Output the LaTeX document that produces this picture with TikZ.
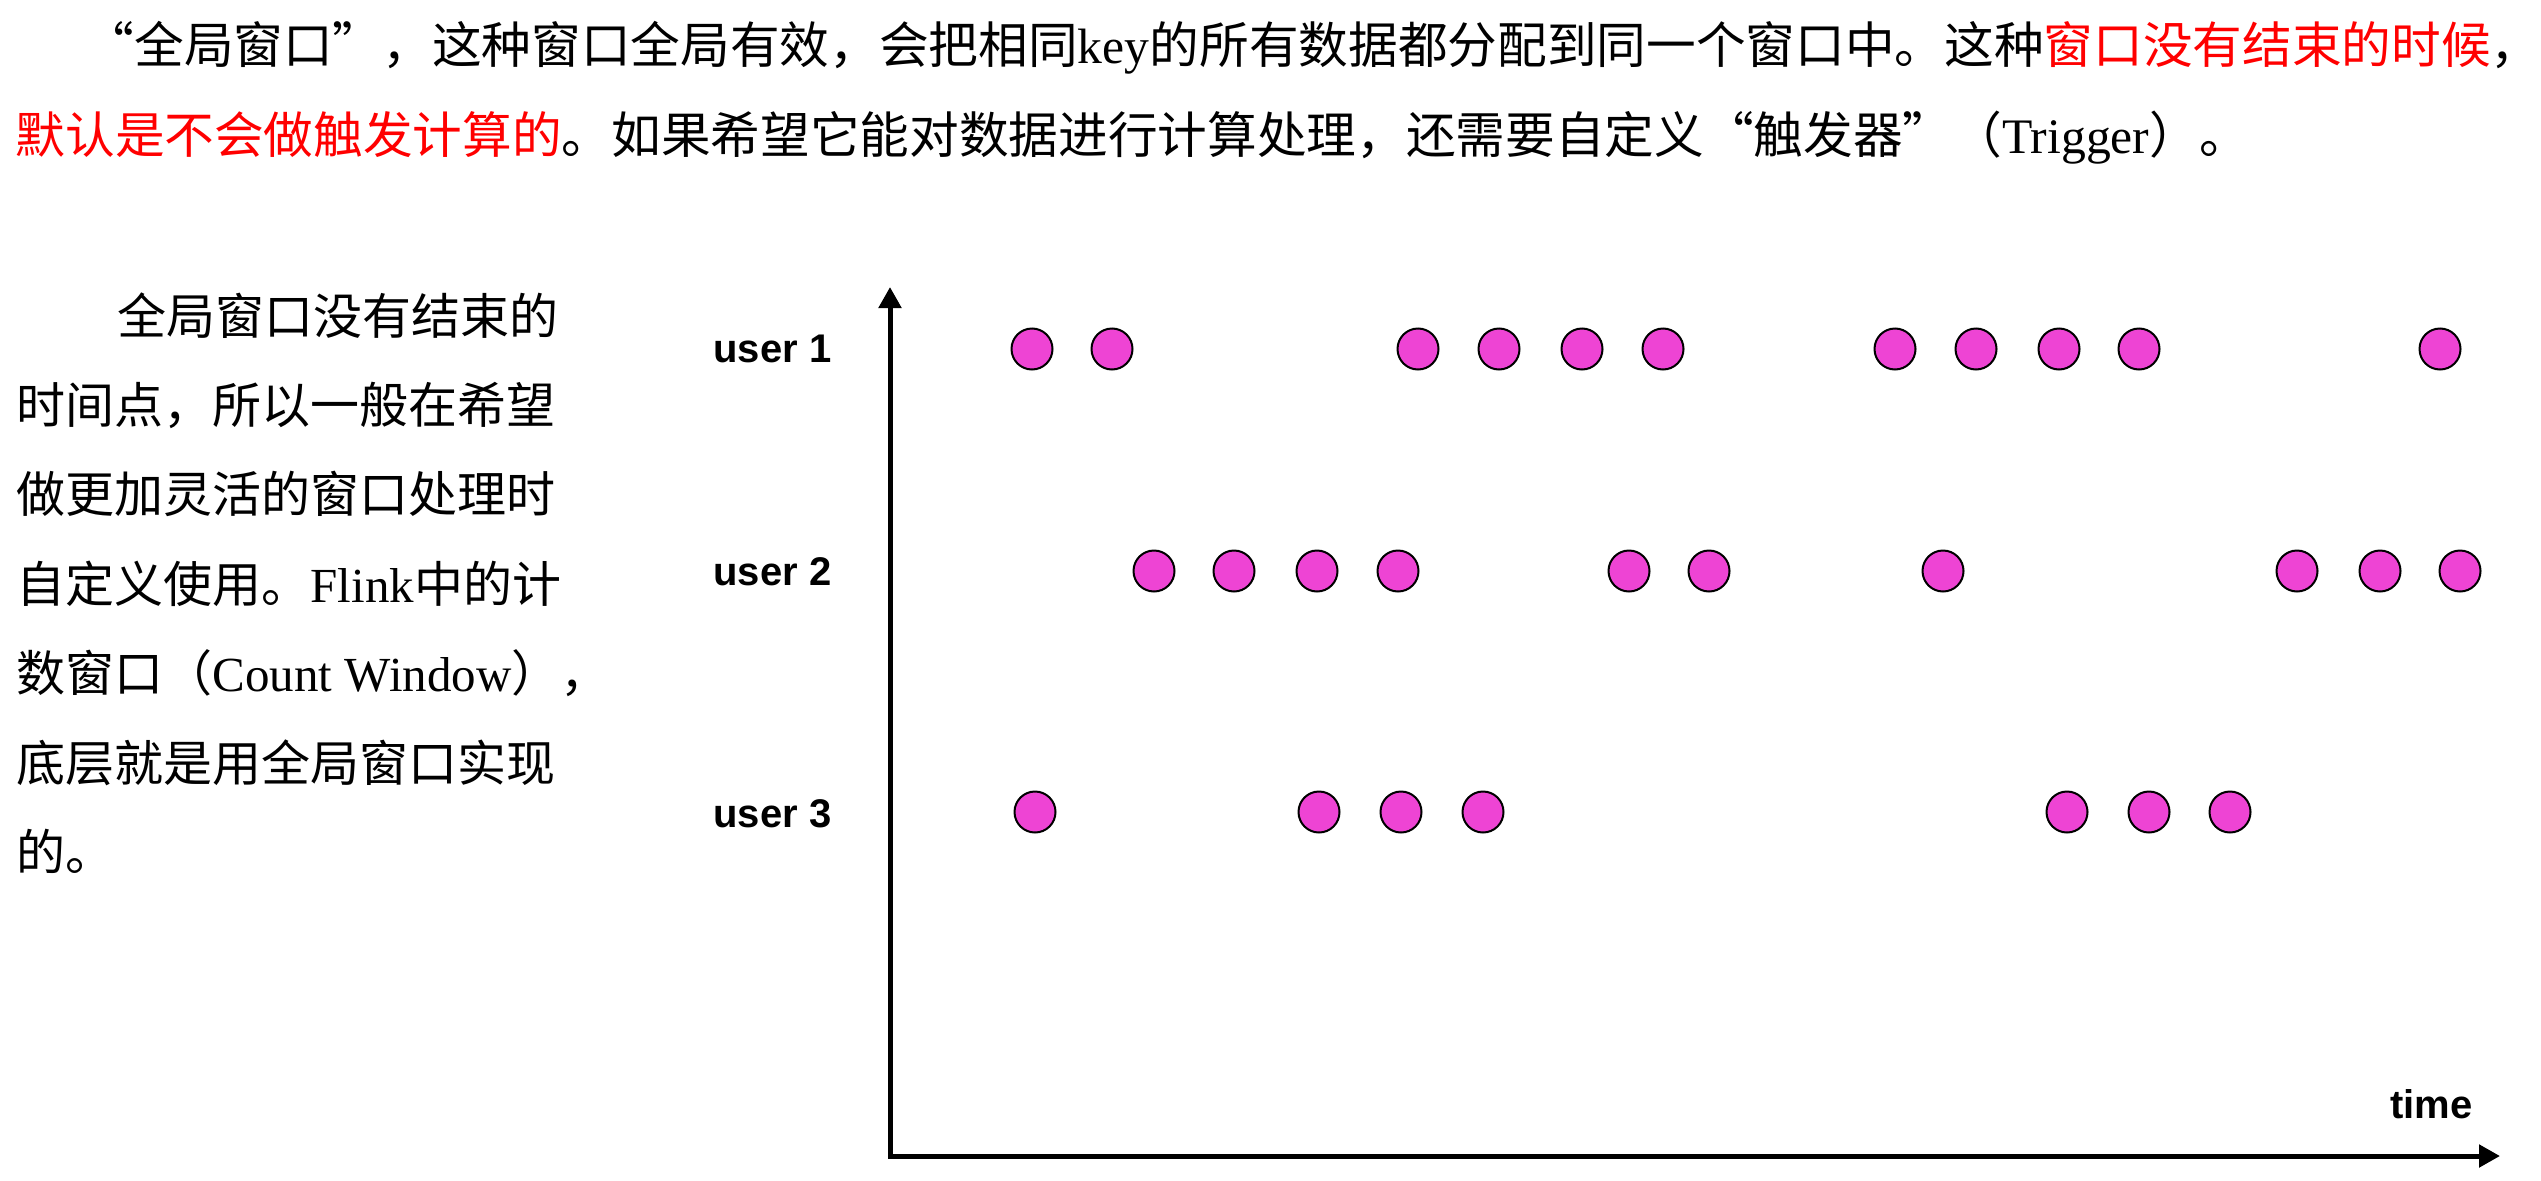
\documentclass[tikz,border=0pt]{standalone}
\usepackage{fontspec}
\setmainfont{Liberation Serif}
\setsansfont{Liberation Sans}
\newfontfamily\cjk{Noto Sans CJK SC}
\usetikzlibrary{arrows.meta}
\definecolor{hlred}{RGB}{255,0,0}
\definecolor{dotpink}{RGB}{238,68,212}
\tikzset{
  bodytext/.style={anchor=base west,inner sep=0pt,font=\cjk\fontsize{14.9}{18}\selectfont},
  sidetext/.style={anchor=base west,inner sep=0pt,font=\cjk\fontsize{14.7}{18}\selectfont},
  userlabel/.style={anchor=east,inner sep=0pt,font=\sffamily\bfseries\fontsize{12}{14}\selectfont},
  evt/.style={circle,draw=black,line width=0.6pt,fill=dotpink,minimum size=12.3pt,inner sep=0pt},
  axis/.style={line width=1.5pt,{Triangle[length=6.3pt,width=6.6pt]}-{Triangle[length=6.3pt,width=6.6pt]}}
}

\begin{document}
\begin{tikzpicture}[x=0.3pt,y=0.3pt,yscale=-1,xscale=1]
\useasboundingbox (0,0) rectangle (2541,1181);

% Text Node
\node[bodytext] (line1) at (84,63) {“全局窗口”，这种窗口全局有效，会把相同\textrm{key}的所有数据都分配到同一个窗口中。这种\textcolor{hlred}{窗口没有结束的时候}，};
% Text Node
\node[bodytext] (line2) at (15,153) {\textcolor{hlred}{默认是不会做触发计算的}。如果希望它能对数据进行计算处理，还需要自定义“触发器”（\textrm{Trigger}）。};

% Text Node
\node[sidetext] (side1) at (117,334) {全局窗口没有结束的};
\node[sidetext] (side2) at (16,423) {时间点，所以一般在希望};
\node[sidetext] (side3) at (16,512) {做更加灵活的窗口处理时};
\node[sidetext] (side4) at (16,602) {自定义使用。\textrm{Flink}中的计};
\node[sidetext] (side5) at (16,691) {数窗口（\textrm{Count Window}），};
\node[sidetext] (side6) at (16,781) {底层就是用全局窗口实现};
\node[sidetext] (side7) at (16,870) {的。};

%Shape: Axes
\coordinate (origin) at (890,1156);
\coordinate (ytip) at (890,287);
\coordinate (xtip) at (2500,1156);
\draw[axis] (ytip) -- (origin) -- (xtip);

% Text Node
\node[userlabel] (user1) at (832,349) {user 1};
\node[userlabel] (user2) at (832,572) {user 2};
\node[userlabel] (user3) at (832,814) {user 3};
\node[anchor=base east,inner sep=0pt,font=\sffamily\bfseries\fontsize{12}{14}\selectfont] (time) at (2473,1118) {time};

%Shape: Circles
\foreach \x [count=\i] in {1032,1112,1418,1499,1582,1663,1895,1976,2059,2139,2440}
  \node[evt] (a\i) at (\x,349) {};
\foreach \x [count=\i] in {1154,1234,1317,1398,1629,1709,1943,2297,2380,2460}
  \node[evt] (b\i) at (\x,571) {};
\foreach \x [count=\i] in {1035,1319,1401,1483,2067,2149,2230}
  \node[evt] (c\i) at (\x,812) {};

\end{tikzpicture}
\end{document}
